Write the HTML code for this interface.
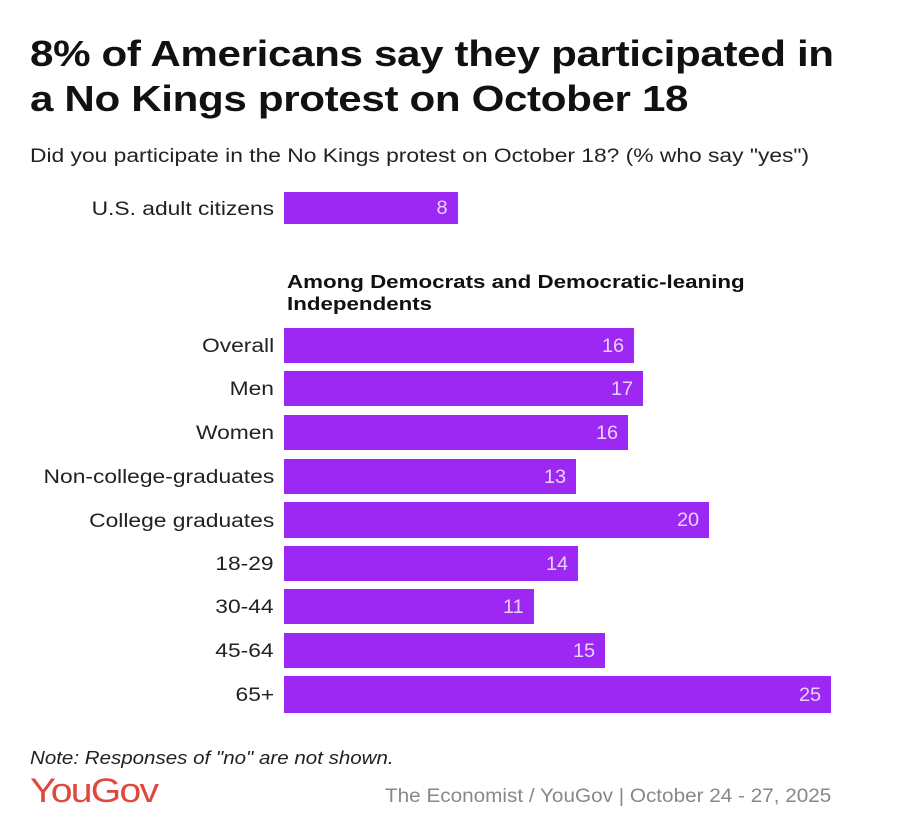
<!DOCTYPE html>
<html><head><meta charset="utf-8"><style>
body{margin:0;width:900px;height:840px;background:#fff;font-family:"Liberation Sans",sans-serif;position:relative;overflow:hidden;color:#1a1a1a}
.a{position:absolute;white-space:nowrap}
.t{left:30px;font-size:36px;font-weight:bold;letter-spacing:-0.3px;color:#111;transform:scaleX(1.17);transform-origin:left}
.l{right:626px;font-size:19px;color:#222;text-align:right;transform:scaleX(1.2);transform-origin:right;margin-top:2px}
.b{position:absolute;left:284px;height:35px;background:#9d28f3}
.v{position:absolute;right:10px;top:8px;color:#e8d4fb;font-size:19px;transform:scaleX(1.05);transform-origin:right}
</style></head><body>
<div class="a t" style="top:33px">8% of Americans say they participated in</div>
<div class="a t" style="top:78px">a No Kings protest on October 18</div>
<div class="a" style="left:30px;top:146px;font-size:19px;color:#222;transform:scaleX(1.2);transform-origin:left">Did you participate in the No Kings protest on October 18? (% who say "yes")</div>

<div class="a l" style="top:197px">U.S. adult citizens</div>
<div class="b" style="top:192px;width:174px;height:32px"><span class="v" style="top:6px">8</span></div>

<div class="a" style="left:287px;top:271px;font-size:18px;font-weight:bold;line-height:22px;color:#111;transform:scaleX(1.24);transform-origin:left">Among Democrats and Democratic-leaning<br>Independents</div>

<div class="a l" style="top:334px">Overall</div><div class="b" style="top:328px;width:350px"><span class="v">16</span></div>
<div class="a l" style="top:377px">Men</div><div class="b" style="top:371px;width:359px"><span class="v">17</span></div>
<div class="a l" style="top:421px">Women</div><div class="b" style="top:415px;width:344px"><span class="v">16</span></div>
<div class="a l" style="top:465px">Non-college-graduates</div><div class="b" style="top:459px;width:292px"><span class="v">13</span></div>
<div class="a l" style="top:509px">College graduates</div><div class="b" style="top:502px;width:425px;height:36px"><span class="v">20</span></div>
<div class="a l" style="top:552px">18-29</div><div class="b" style="top:546px;width:294px"><span class="v">14</span></div>
<div class="a l" style="top:595px">30-44</div><div class="b" style="top:589px;width:250px"><span class="v">11</span></div>
<div class="a l" style="top:639px">45-64</div><div class="b" style="top:633px;width:321px"><span class="v">15</span></div>
<div class="a l" style="top:683px">65+</div><div class="b" style="top:676px;width:547px;height:37px"><span class="v" style="top:9px">25</span></div>

<div class="a" style="left:30px;top:748px;font-size:18px;font-style:italic;color:#222;transform:scaleX(1.14);transform-origin:left">Note: Responses of "no" are not shown.</div>
<div class="a" style="left:30px;top:772px;font-size:34px;color:#e0473d;letter-spacing:-1.5px;transform:scaleX(1.15);transform-origin:left">YouGov</div>
<div class="a" style="left:385px;top:786px;font-size:19px;color:#888;transform:scaleX(1.09);transform-origin:left">The Economist / YouGov | October 24 - 27, 2025</div>
</body></html>
